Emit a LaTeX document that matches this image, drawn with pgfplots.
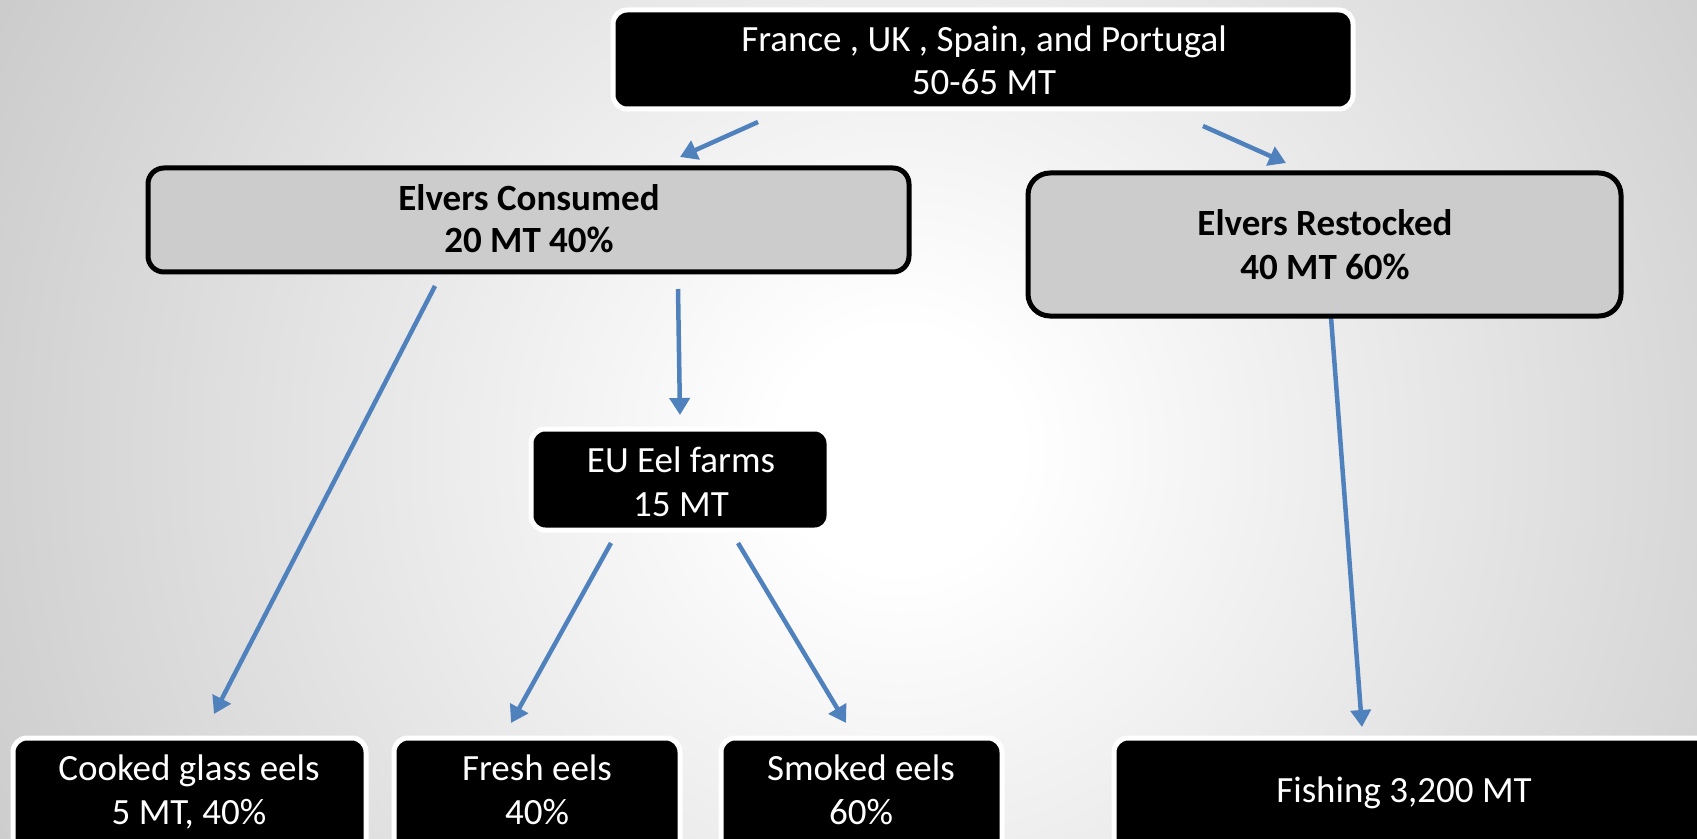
\documentclass[border=0pt]{standalone}
\usepackage{fontspec}
\setmainfont{Carlito}
\usepackage{pgfplots}
\pgfplotsset{compat=1.18}
\usetikzlibrary{arrows.meta}
\definecolor{arrowblue}{RGB}{79,129,189}
\definecolor{boxgray}{RGB}{204,204,204}
\definecolor{bgouter}{RGB}{146,146,146}
\pgfdeclareradialshading{bgshade}{\pgfpoint{0bp}{0bp}}{color(0bp)=(white); color(3bp)=(white); color(50bp)=(bgouter); color(100bp)=(bgouter)}
\newcommand{\fs}{\fontsize{37bp}{44bp}\selectfont}
\begin{document}
\begin{tikzpicture}
\begin{axis}[
  width=1697bp, height=839bp, scale only axis,
  xmin=0, xmax=1697, ymin=0, ymax=839, y dir=reverse,
  axis lines=none, ticks=none, clip=true,
]
% background
\shade[shading=bgshade] (axis cs:-100,-550) rectangle (axis cs:1900,1450);

% arrows
\addplot[arrowblue, line width=4.5bp, -{Triangle[length=17bp,width=20bp]}] coordinates {(758,122) (680,157)};
\addplot[arrowblue, line width=4.5bp, -{Triangle[length=17bp,width=20bp]}] coordinates {(1203,126) (1286,163)};
\addplot[arrowblue, line width=4.5bp, -{Triangle[length=17bp,width=20bp]}] coordinates {(435,286) (214,714)};
\addplot[arrowblue, line width=4.5bp, -{Triangle[length=17bp,width=20bp]}] coordinates {(678,289) (680,415)};
\addplot[arrowblue, line width=4.5bp, -{Triangle[length=17bp,width=20bp]}] coordinates {(611,543) (511,723)};
\addplot[arrowblue, line width=4.5bp, -{Triangle[length=17bp,width=20bp]}] coordinates {(738,543) (846,723)};
\addplot[arrowblue, line width=4.5bp, -{Triangle[length=17bp,width=20bp]}] coordinates {(1331,317) (1362,727)};

% boxes
\draw[fill=black, draw=white, line width=5bp, rounded corners=14bp] (axis cs:613,10) rectangle (axis cs:1353,109);
\draw[fill=boxgray, draw=black, line width=5bp, rounded corners=16bp] (axis cs:148,168) rectangle (axis cs:909,272);
\draw[fill=boxgray, draw=black, line width=5bp, rounded corners=22bp] (axis cs:1028,173) rectangle (axis cs:1621,316);
\draw[fill=black, draw=white, line width=5bp, rounded corners=14bp] (axis cs:531,429) rectangle (axis cs:829,530);
\draw[fill=black, draw=white, line width=5bp, rounded corners=14bp] (axis cs:13,738) rectangle (axis cs:366,870);
\draw[fill=black, draw=white, line width=5bp, rounded corners=14bp] (axis cs:394,738) rectangle (axis cs:680,870);
\draw[fill=black, draw=white, line width=5bp, rounded corners=14bp] (axis cs:721,738) rectangle (axis cs:1002,870);
\draw[fill=black, draw=white, line width=5bp, rounded corners=14bp] (axis cs:1114,738) rectangle (axis cs:1730,870);

% texts
\node[anchor=base, text=white, font=\fs, inner sep=0pt] at (axis cs:984,52) {France , UK , Spain, and Portugal};
\node[anchor=base, text=white, font=\fs, inner sep=0pt] at (axis cs:984,95) {50-65 MT};
\node[anchor=base, text=black, font=\fs\bfseries, inner sep=0pt] at (axis cs:529,211) {Elvers Consumed};
\node[anchor=base, text=black, font=\fs\bfseries, inner sep=0pt] at (axis cs:529,253) {20 MT 40\%};
\node[anchor=base, text=black, font=\fs\bfseries, inner sep=0pt] at (axis cs:1325,236) {Elvers Restocked};
\node[anchor=base, text=black, font=\fs\bfseries, inner sep=0pt] at (axis cs:1325,279) {40 MT 60\%};
\node[anchor=base, text=white, font=\fs, inner sep=0pt] at (axis cs:681,472) {EU Eel farms};
\node[anchor=base, text=white, font=\fs, inner sep=0pt] at (axis cs:681,516) {15 MT};
\node[anchor=base, text=white, font=\fs, inner sep=0pt] at (axis cs:189,780) {Cooked glass eels};
\node[anchor=base, text=white, font=\fs, inner sep=0pt] at (axis cs:189,824) {5 MT, 40\%};
\node[anchor=base, text=white, font=\fs, inner sep=0pt] at (axis cs:537,780) {Fresh eels};
\node[anchor=base, text=white, font=\fs, inner sep=0pt] at (axis cs:537,824) {40\%};
\node[anchor=base, text=white, font=\fs, inner sep=0pt] at (axis cs:861,780) {Smoked eels};
\node[anchor=base, text=white, font=\fs, inner sep=0pt] at (axis cs:861,824) {60\%};
\node[anchor=base, text=white, font=\fs, inner sep=0pt] at (axis cs:1404,802) {Fishing 3,200 MT};
\end{axis}
\end{tikzpicture}
\end{document}
